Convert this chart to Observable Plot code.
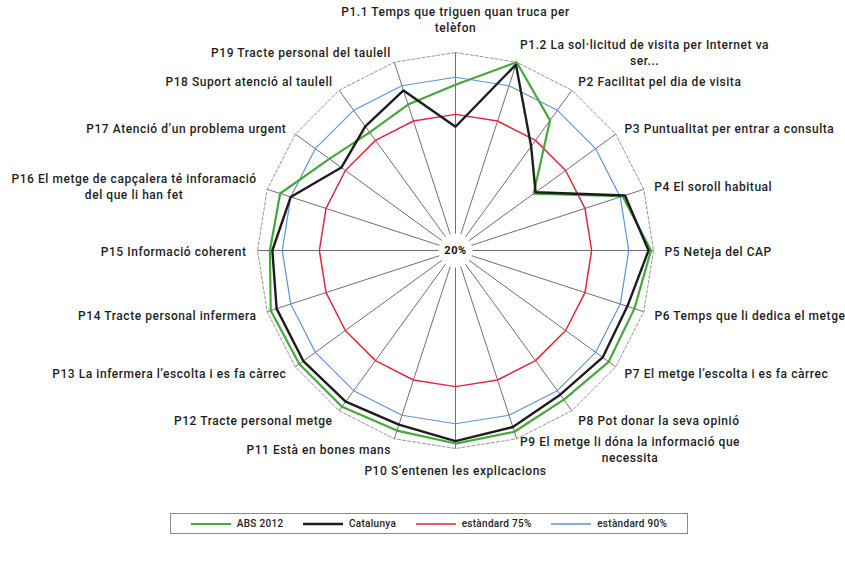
<!DOCTYPE html>
<html><head><meta charset="utf-8">
<script src="https://cdn.jsdelivr.net/npm/d3@7"></script>
<script src="https://cdn.jsdelivr.net/npm/@observablehq/plot@0.6"></script>
<style>
body{margin:0;background:#fff;font-family:Roboto,sans-serif;}
#chart{position:absolute;left:0;top:0;}
#legend{position:absolute;left:170px;top:513px;width:518px;height:21px;border:1px solid #8a8a8a;display:flex;align-items:center;justify-content:space-around;padding:0 10px;box-sizing:border-box;font-size:10px;font-weight:500;color:#222;letter-spacing:0.3px;}
#legend .it{display:flex;align-items:center;gap:6px;}
</style></head><body><div id="chart"></div><div id="legend"></div>
<script>
const questions = [
  "P1.1 Temps que triguen quan truca per\ntelèfon",
  "P1.2 La sol·licitud de visita per Internet va\nser...",
  "P2 Facilitat pel dia de visita",
  "P3 Puntualitat per entrar a consulta",
  "P4 El soroll habitual",
  "P5 Neteja del CAP",
  "P6 Temps que li dedica el metge",
  "P7 El metge l’escolta i es fa càrrec",
  "P8 Pot donar la seva opinió",
  "P9 El metge li dóna la informació que\nnecessita",
  "P10 S’entenen les explicacions",
  "P11 Està en bones mans",
  "P12 Tracte personal metge",
  "P13 La infermera l’escolta i es fa càrrec",
  "P14 Tracte personal infermera",
  "P15 Informació coherent",
  "P16 El metge de capçalera té inforamació\ndel que li han fet",
  "P17 Atenció d’un problema urgent",
  "P18 Suport atenció al taulell",
  "P19 Tracte personal del taulell"
];
const abs2012   = [87, 100, 85, 59, 91, 99, 96, 96.5, 94.5, 97, 98, 96.5, 98, 98, 98.5, 95, 94.5, 83, 79, 82];
const catalunya = [70, 99, 72, 60, 92, 98, 93, 93.5, 92, 95, 97, 94, 95.5, 96, 96, 94, 90, 77, 82, 88];
const standard75 = [75,75,75,75,75,75,75,75,75,75,75,75,75,75,75,75,75,75,75,75];
const standard90 = [90,90,90,90,90,90,90,90,90,90,90,90,90,90,90,90,90,90,90,90];
const seriesNames = ["ABS 2012", "Catalunya", "estàndard 75%", "estàndard 90%"];
const seriesColors = ["#46a83b", "#1c1c1c", "#e3263d", "#5f92da"];
const seriesWidths = [2.2, 2.4, 1.5, 1.2];
const scaleMin = 20, scaleMax = 100;

const W = 845, H = 500, cx = 455, cy = 250, R = 198;
const rad = d3.scaleLinear().domain([scaleMin, scaleMax]).range([0, 1]);
const n = questions.length;
const ang = i => 2 * Math.PI * i / n;
const pt = (i, v) => { const r = rad(v); return {x: r * Math.sin(ang(i)), y: r * Math.cos(ang(i))}; };

const allSeries = [abs2012, catalunya, standard75, standard90];
const rows = [];
allSeries.forEach((vals, s) => vals.forEach((v, i) => rows.push({s, i, ...pt(i, v)})));
const idx = questions.map((q, i) => i);

// category labels: box centred on a point just outside the outer ring
const FS = 12, LH = 1.3, PAD = 11, TOP_GAP = 7, FW = 500, LS = 0.55;
const ctx = document.createElement("canvas").getContext("2d");
ctx.font = `${FW} ${FS}px Roboto`;
const labelData = questions.map((q, i) => {
  const lines = q.split("\n");
  const w = Math.max(...lines.map(l => ctx.measureText(l).width + LS * l.length));
  const h = lines.length * FS * LH;
  const s = Math.sin(ang(i)), c = Math.cos(ang(i));
  const ax = (R + PAD) * s, ay = (R + PAD) * c;
  const vertical = Math.abs(s) < 0.05;
  const hx = vertical ? 0 : Math.sign(s) * w / 2;
  const hy = vertical ? c * (h / 2) + (c > 0 ? TOP_GAP : -3) : 0;
  return {text: q, x: (ax + hx) / R, y: (ay + hy) / R};
});

const marks = [
  Plot.link(idx, {x1: i => pt(i, scaleMin).x, y1: i => pt(i, scaleMin).y, x2: i => pt(i, scaleMax).x, y2: i => pt(i, scaleMax).y, stroke: "#4a4a4a", strokeWidth: 0.8}),
  Plot.line(idx, {x: i => pt(i, scaleMax).x, y: i => pt(i, scaleMax).y, curve: "linear-closed", stroke: "#8a8a8a", strokeWidth: 0.9, strokeDasharray: "3,2"}),
  Plot.dot([scaleMin], {x: d => pt(0, d).x, y: d => pt(0, d).y, r: 17, fill: "white", stroke: "none"})
];
[2, 3, 0, 1].forEach(s => {
  marks.push(Plot.line(rows.filter(d => d.s === s), {x: "x", y: "y", curve: "linear-closed", stroke: seriesColors[s], strokeWidth: seriesWidths[s], strokeLinejoin: "miter"}));
});
marks.push(Plot.text([scaleMin], {x: d => pt(0, d).x, y: d => pt(0, d).y, text: d => d + "%", fontSize: 11, fontWeight: "bold", fill: "#111"}));
marks.push(Plot.text(labelData, {x: "x", y: "y", text: "text", textAnchor: "middle", lineAnchor: "middle", lineHeight: LH, fontSize: FS, fontWeight: FW, fill: "#1e1e1e", fontFamily: "Roboto"}));

const chart = Plot.plot({
  width: W, height: H, margin: 0,
  x: {domain: [-cx / R, (W - cx) / R], axis: null},
  y: {domain: [-(H - cy) / R, cy / R], axis: null},
  style: {fontFamily: "Roboto, sans-serif", background: "white", letterSpacing: LS + "px"},
  marks
});
document.getElementById("chart").appendChild(chart);

const leg = document.getElementById("legend");
seriesNames.forEach((name, s) => {
  const it = document.createElement("div");
  it.className = "it";
  it.innerHTML = `<svg width="40" height="6"><line x1="0" y1="3" x2="40" y2="3" stroke="${seriesColors[s]}" stroke-width="${Math.max(1.4, seriesWidths[s])}"/></svg><span>${name}</span>`;
  leg.appendChild(it);
});
</script></body></html>
